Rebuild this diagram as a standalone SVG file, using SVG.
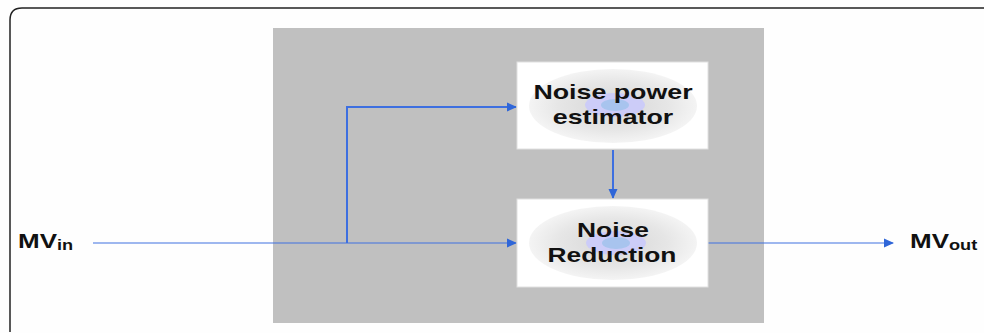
<svg xmlns="http://www.w3.org/2000/svg" width="984" height="333" viewBox="0 0 984 333">
<defs>
<style>
.lbl{font-family:"Liberation Sans",Arial,sans-serif;font-weight:bold;font-size:20px;fill:#111;text-anchor:middle}
.io{font-family:"Liberation Sans",Arial,sans-serif;font-weight:bold;font-size:20px;fill:#111}
.box{fill:#fff;stroke:#e0e0e0;stroke-width:1}
.wire{fill:none;stroke:#3d6fe0;stroke-opacity:0.5;stroke-width:2}
.wire2{fill:none;stroke:#3d6fe0;stroke-width:2}
</style>
<marker id="ah" markerWidth="10" markerHeight="10" refX="9" refY="5" orient="auto" markerUnits="userSpaceOnUse">
<path d="M0,0.5 L10,5 L0,9.5 Z" fill="#2f66d8"/>
</marker>
<radialGradient id="glow" cx="50%" cy="50%" r="50%">
<stop offset="0" stop-color="#d6d6d6"/>
<stop offset="0.65" stop-color="#e6e6e6"/>
<stop offset="1" stop-color="#f4f4f4"/>
</radialGradient>
</defs>
<rect width="984" height="333" fill="#fefefe"/>
<path d="M10,332 L10,20 Q10,8 22,8 L984,8" fill="none" stroke="#222" stroke-width="1.5"/>
<rect x="273" y="28" width="491" height="295" fill="#c0c0c0"/>
<g id="connectors">
<line class="wire" x1="93" y1="243" x2="516" y2="243" marker-end="url(#ah)"/>
<path class="wire2" d="M347,243 L347,107 L516,107" marker-end="url(#ah)"/>
<line class="wire2" x1="613" y1="150" x2="613" y2="198" marker-end="url(#ah)"/>
<line class="wire" x1="708" y1="243" x2="893" y2="243" marker-end="url(#ah)"/>
</g>
<g id="estimator">
<rect class="box" x="517" y="62" width="191" height="87"/>
<ellipse cx="613" cy="106" rx="84" ry="37" fill="url(#glow)"/>
<ellipse cx="615" cy="105" rx="30" ry="12" fill="#ccccf8"/>
<ellipse cx="615" cy="105" rx="14" ry="6" fill="#a8c4ee"/>
<text class="lbl" transform="translate(613,99) scale(1.34,1)">Noise power</text>
<text class="lbl" transform="translate(613,124) scale(1.34,1)">estimator</text>
</g>
<g id="reduction">
<rect class="box" x="517" y="199" width="191" height="88"/>
<ellipse cx="613" cy="243" rx="84" ry="37" fill="url(#glow)"/>
<ellipse cx="616" cy="243" rx="30" ry="12" fill="#ccccf8"/>
<ellipse cx="616" cy="243" rx="14" ry="6" fill="#a8c4ee"/>
<text class="lbl" transform="translate(613,237) scale(1.32,1)">Noise</text>
<text class="lbl" transform="translate(612,262) scale(1.32,1)">Reduction</text>
</g>
<g id="mv-in">
<text class="io" transform="translate(18,248) scale(1.3,1)">MV<tspan font-size="14" dy="2">in</tspan></text>
</g>
<g id="mv-out">
<text class="io" transform="translate(910,248) scale(1.3,1)">MV<tspan font-size="14" dy="2">out</tspan></text>
</g>
</svg>
